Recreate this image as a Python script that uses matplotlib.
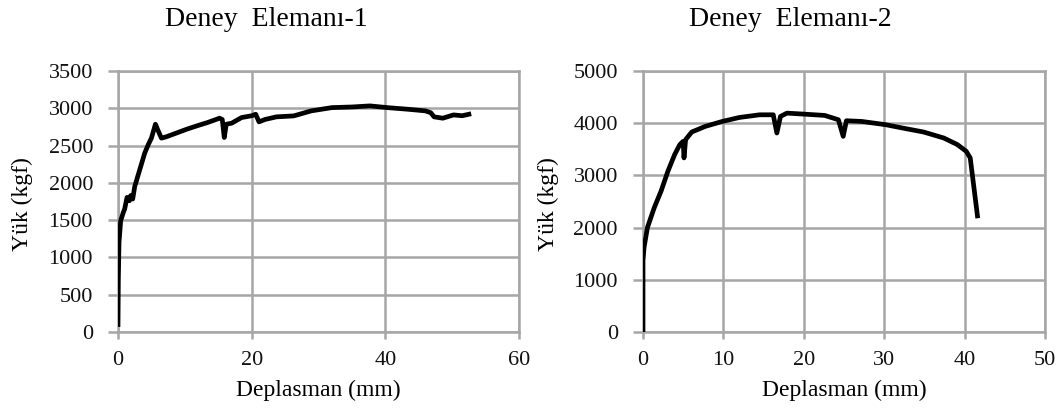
import matplotlib
matplotlib.use("Agg")
import matplotlib.pyplot as plt
from matplotlib.ticker import MultipleLocator

# Deney Elemanı-1
x1 = [0.0, 0.05, 0.15, 0.4, 0.8, 1.0, 1.35, 1.7, 1.9, 2.2, 2.5, 3.0, 3.5, 4.0, 4.56, 5.0, 5.6, 6.0, 6.5, 7.2,
      8.5, 10.3, 12.0, 13.4, 15.2, 15.6, 15.9, 16.2, 17.0, 18.5, 20.0, 20.6, 21.1, 22.0, 23.7, 26.3, 28.9,
      32.0, 35.1, 37.7, 40.3, 43.4, 46.0, 46.8, 47.3, 48.6, 50.2, 51.5, 52.5]
y1 = [100, 700, 1200, 1493, 1605, 1650, 1805, 1760, 1830, 1783, 1950, 2100, 2250, 2400, 2519, 2600, 2786, 2700, 2600, 2617,
      2660, 2720, 2770, 2809, 2867, 2850, 2608, 2786, 2800, 2876, 2900, 2920, 2818, 2850, 2885, 2898, 2965,
      3009, 3018, 3032, 3009, 2987, 2965, 2940, 2885, 2867, 2911, 2900, 2920]

# Deney Elemanı-2
x2 = [0.0, 0.0, 0.13, 0.55, 1.4, 2.25, 3.1, 3.94, 4.58, 5.0, 5.1, 5.3, 6.06, 7.75, 9.87, 12.0, 14.5, 16.2, 16.65, 17.1,
      17.9, 20.0, 22.6, 24.3, 24.9, 25.3, 27.2, 30.2, 32.3, 34.9, 37.4, 39.1, 40.2, 40.7, 41.6]
y2 = [0, 1366, 1620, 2000, 2382, 2700, 3081, 3400, 3590, 3653, 3335, 3685, 3831, 3939, 4034, 4110, 4161, 4161, 3812, 4130,
      4193, 4174, 4149, 4066, 3748, 4047, 4034, 3971, 3907, 3831, 3717, 3590, 3462, 3335, 2224]

titles = ["Deney  Elemanı-1", "Deney  Elemanı-2"]
xlabel = "Deplasman (mm)"
ylabel = "Yük (kgf)"

W, H = 1061, 416
fig = plt.figure(figsize=(W / 100, H / 100), dpi=100)
plt.rcParams['font.family'] = ['Liberation Serif', 'DejaVu Serif']

grid_c = '#a6a6a6'

def make_ax(l, r, b, t):
    return fig.add_axes([l / W, 1 - b / H, (r - l) / W, (b - t) / H])

ax1 = make_ax(118, 519, 332, 71)
ax2 = make_ax(643, 1045, 332, 71)

configs = [
    (ax1, x1, y1, (0, 60), 20, (0, 3500), 500, titles[0], 266, 22),
    (ax2, x2, y2, (0, 50), 10, (0, 5000), 1000, titles[1], 790, 548),
]

for ax, xs, ys, xl, xs_step, yl, ys_step, title, tx, ylx in configs:
    ax.plot(xs, ys, color='black', lw=3.4, solid_joinstyle='round', zorder=3)
    ax.set_xlim(*xl)
    ax.set_ylim(*yl)
    ax.xaxis.set_major_locator(MultipleLocator(xs_step))
    ax.yaxis.set_major_locator(MultipleLocator(ys_step))
    ax.grid(True, color=grid_c, lw=1.8)
    ax.set_axisbelow(True)
    for s in ax.spines.values():
        s.set_color(grid_c)
        s.set_linewidth(1.8)
    ax.tick_params(axis='both', direction='out', color=grid_c, width=1.8, labelsize=16, labelcolor='#111111')
    ax.tick_params(axis='y', length=7, pad=11)
    ax.tick_params(axis='x', length=5, pad=9)
    ax.set_xlabel(xlabel, fontsize=17, labelpad=7)
    ax.set_ylabel(ylabel, fontsize=17, va='center', ha='center')
    ax.yaxis.set_label_coords(ylx / W, 1 - 204 / H, transform=fig.transFigure)
    fig.text(tx / W, 1 - 20 / H, title, fontsize=20, ha='center', va='center')

fig.savefig("out.png", dpi=100)
